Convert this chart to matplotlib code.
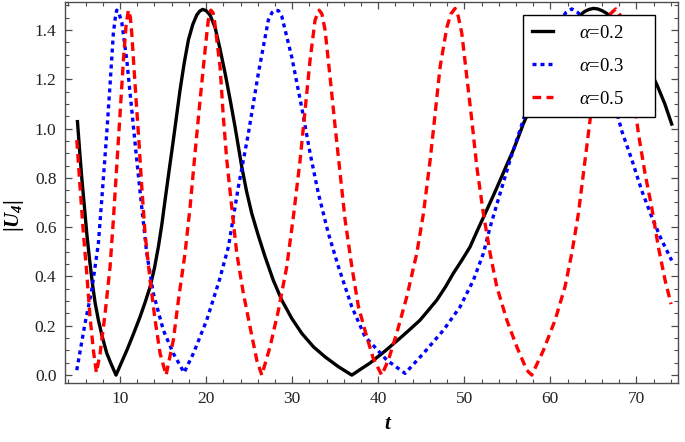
import matplotlib
matplotlib.use("Agg")
import matplotlib.pyplot as plt
from matplotlib.ticker import MultipleLocator

plt.rcParams.update(
    {
        "font.family": ["Liberation Serif", "DejaVu Serif"],
        "mathtext.fontset": "custom",
        "mathtext.rm": "Liberation Serif",
        "mathtext.it": "Liberation Serif:italic",
        "mathtext.bf": "Liberation Serif:bold",
        "mathtext.bfit": "Liberation Serif:italic:bold",
    }
)

# alpha = 0.2 (black, solid)
t_a2 = [5.05, 5.3, 5.55, 5.85, 6.13, 6.45, 6.78, 7.1, 7.48, 7.95, 8.45, 9.0, 9.53,
        10.15, 10.78, 11.5, 12.32, 12.9, 13.49, 14.0, 14.45, 14.85, 15.23,
        15.7, 16.19, 16.6, 16.97, 17.45, 17.94, 18.45, 18.91, 19.25, 19.6,
        20.0, 20.46, 21.04, 21.6, 22.2, 22.8, 23.36, 24.14, 24.7, 25.3, 26.07,
        26.85, 27.8, 28.79, 29.95, 31.1, 32.46, 33.82, 35.37, 36.93, 38.0,
        39.05, 40.8, 42.54, 43.7, 44.86, 45.8, 46.8, 47.8, 48.73, 49.7, 50.67,
        51.5, 52.42, 53.3, 54.16, 54.9, 55.7, 56.3, 56.87, 58.0, 59.5, 61.0,
        62.5, 63.3, 64.0, 64.5, 65.0, 65.5, 66.0, 66.5, 67.0, 68.0, 69.0, 70.0,
        70.8, 71.5, 72.4, 73.3, 74.1]
u_a2 = [1.028, 0.91, 0.80, 0.685, 0.575, 0.47, 0.373, 0.293, 0.223, 0.153,
        0.089, 0.042, 0.0, 0.05, 0.10, 0.162, 0.236, 0.294, 0.358, 0.435,
        0.52, 0.61, 0.71, 0.83, 0.953, 1.06, 1.156, 1.265, 1.359, 1.422, 1.46,
        1.476, 1.483, 1.478, 1.46, 1.41, 1.325, 1.225, 1.115, 1.007, 0.845,
        0.745, 0.656, 0.565, 0.48, 0.385, 0.304, 0.23, 0.17, 0.115, 0.074,
        0.034, 0.0, 0.025, 0.049, 0.098, 0.15, 0.186, 0.223, 0.262, 0.304,
        0.357, 0.413, 0.465, 0.52, 0.585, 0.655, 0.722, 0.79, 0.85, 0.913,
        0.967, 1.02, 1.11, 1.22, 1.33, 1.42, 1.455, 1.475, 1.483, 1.487,
        1.485, 1.478, 1.468, 1.455, 1.42, 1.38, 1.33, 1.285, 1.24, 1.176,
        1.10, 1.018]

# alpha = 0.3 (blue, dotted)
t_a3 = [4.97, 5.93, 6.71, 7.48, 7.87, 8.45, 8.84, 9.22, 9.45, 9.61, 9.85, 10.2,
        10.78, 11.36, 11.94, 12.52, 13.1, 13.87, 15.03, 16.19, 17.44, 18.52,
        20.07, 21.54, 22.59, 23.75, 24.91, 26.07, 27.23, 27.65, 28.0, 28.4,
        28.79, 29.95, 31.1, 32.08, 33.04, 34.2, 35.37, 36.93, 38.47, 39.3,
        40.99, 43.12, 45.25, 47.57, 49.51, 51.06, 52.22, 53.0, 54.16, 55.32,
        56.48, 58.0, 59.5, 61.0, 61.8, 62.5, 63.2, 64.0, 65.5, 67.0, 68.3,
        69.5, 70.6, 71.8, 72.9, 74.1]
u_a3 = [0.02, 0.21, 0.345, 0.534, 0.71, 0.98, 1.18, 1.386, 1.45, 1.48, 1.47,
        1.43, 1.278, 1.075, 0.872, 0.68, 0.494, 0.331, 0.182, 0.088, 0.01,
        0.088, 0.223, 0.385, 0.52, 0.764, 0.98, 1.224, 1.44, 1.47, 1.48,
        1.478, 1.455, 1.29, 1.087, 0.9, 0.737, 0.575, 0.44, 0.277, 0.155,
        0.125, 0.061, 0.007, 0.088, 0.182, 0.277, 0.385, 0.494, 0.6, 0.737,
        0.872, 0.994, 1.16, 1.31, 1.43, 1.47, 1.485, 1.47, 1.44, 1.33, 1.16,
        0.99, 0.87, 0.75, 0.64, 0.55, 0.465]

# alpha = 0.5 (red, dashed)
t_a5 = [4.97, 5.35, 5.74, 6.13, 6.51, 6.9, 7.25, 7.68, 8.26, 8.84, 9.22, 9.61,
        10.0, 10.39, 10.7, 10.97, 11.2, 11.36, 11.74, 12.13, 12.52, 12.9,
        13.49, 14.07, 14.65, 15.35, 16.19, 16.78, 17.55, 18.13, 18.71, 19.3,
        19.88, 20.25, 20.54, 20.8, 21.0, 21.62, 22.0, 22.4, 22.98, 23.56,
        24.33, 25.1, 25.89, 26.47, 27.43, 28.4, 29.37, 30.14, 30.92, 31.5,
        32.08, 32.66, 33.13, 33.45, 33.82, 34.4, 34.99, 35.57, 36.15, 36.93,
        37.7, 38.67, 39.4, 40.4, 41.18, 42.15, 43.32, 44.48, 45.25, 46.03,
        46.61, 47.19, 47.97, 48.45, 48.93, 49.3, 49.71, 50.29, 50.87, 51.45,
        52.22, 53.0, 53.77, 54.94, 56.1, 57.26, 57.84, 59.19, 60.55, 61.71,
        62.49, 63.26, 63.84, 64.42, 65.2, 66.0, 66.8, 67.6, 68.3, 69.2, 70.23,
        71.0, 71.78, 72.55, 73.33, 74.03]
u_a5 = [0.953, 0.764, 0.575, 0.413, 0.236, 0.1, 0.01, 0.088, 0.25, 0.44, 0.629,
        0.845, 1.06, 1.278, 1.42, 1.48, 1.45, 1.386, 1.18, 0.98, 0.764, 0.575,
        0.385, 0.223, 0.088, 0.0, 0.142, 0.304, 0.494, 0.68, 0.9, 1.116,
        1.318, 1.44, 1.48, 1.47, 1.43, 1.25, 1.047, 0.872, 0.68, 0.494,
        0.331, 0.196, 0.06, 0.0, 0.115, 0.263, 0.44, 0.643, 0.872, 1.075,
        1.278, 1.44, 1.48, 1.465, 1.4, 1.21, 1.007, 0.818, 0.629, 0.44,
        0.277, 0.155, 0.07, 0.0, 0.061, 0.17, 0.318, 0.494, 0.655, 0.872,
        1.06, 1.25, 1.41, 1.465, 1.487, 1.455, 1.386, 1.21, 1.035, 0.845,
        0.655, 0.494, 0.359, 0.223, 0.115, 0.02, 0.0, 0.1, 0.223, 0.359,
        0.494, 0.655, 0.818, 0.98, 1.2, 1.37, 1.46, 1.485, 1.45, 1.26, 0.98,
        0.818, 0.68, 0.52, 0.385, 0.288]

labels = [r"$\alpha$=0.2", r"$\alpha$=0.3", r"$\alpha$=0.5"]

fig = plt.figure(figsize=(6.85, 4.42), dpi=100)
ax = fig.add_axes([0.0945, 0.1335, 0.8955, 0.8625])

ax.plot(t_a2, u_a2, color="black", lw=2.4, solid_joinstyle="round",
        label=labels[0])
ax.plot(t_a3, u_a3, color="blue", lw=2.4, dashes=(1.2, 1.2), label=labels[1])
ax.plot(t_a5, u_a5, color="red", lw=2.4, dashes=(2.6, 1.6), label=labels[2])

ax.set_xlim(3.57, 74.85)
ax.set_ylim(-0.032, 1.514)

ax.xaxis.set_major_locator(MultipleLocator(10))
ax.xaxis.set_minor_locator(MultipleLocator(2))
ax.yaxis.set_major_locator(MultipleLocator(0.2))
ax.yaxis.set_minor_locator(MultipleLocator(0.05))
ax.yaxis.set_major_formatter(plt.FormatStrFormatter("%.1f"))

ax.tick_params(which="both", direction="in", top=True, right=True,
               color="0.3", labelsize=12.5, labelcolor="#222222")
ax.tick_params(which="major", length=5, width=0.9, pad=6)
ax.tick_params(which="minor", length=2.6, width=0.8)
for s in ax.spines.values():
    s.set_color("0.3")
    s.set_linewidth(1.0)

ax.set_xlabel(r"$\mathbfit{t}$", fontsize=15)
ax.set_ylabel(r"$\mathbf{|}\mathbfit{U}_{\mathbfit{4}}\mathbf{|}$", fontsize=15)
ax.xaxis.set_label_coords(0.527, -0.085)
ax.yaxis.set_label_coords(-0.063, 0.44)

leg = ax.legend(loc="upper left", bbox_to_anchor=(0.747, 0.682, 0.2155, 0.283),
                mode="expand", fontsize=13.5,
                frameon=True, fancybox=False, framealpha=1, edgecolor="black",
                borderpad=0.5, labelspacing=0.85, handlelength=1.1,
                handletextpad=1.4, borderaxespad=0)
leg.get_frame().set_linewidth(1.0)

fig.savefig("out.png", dpi=100)
